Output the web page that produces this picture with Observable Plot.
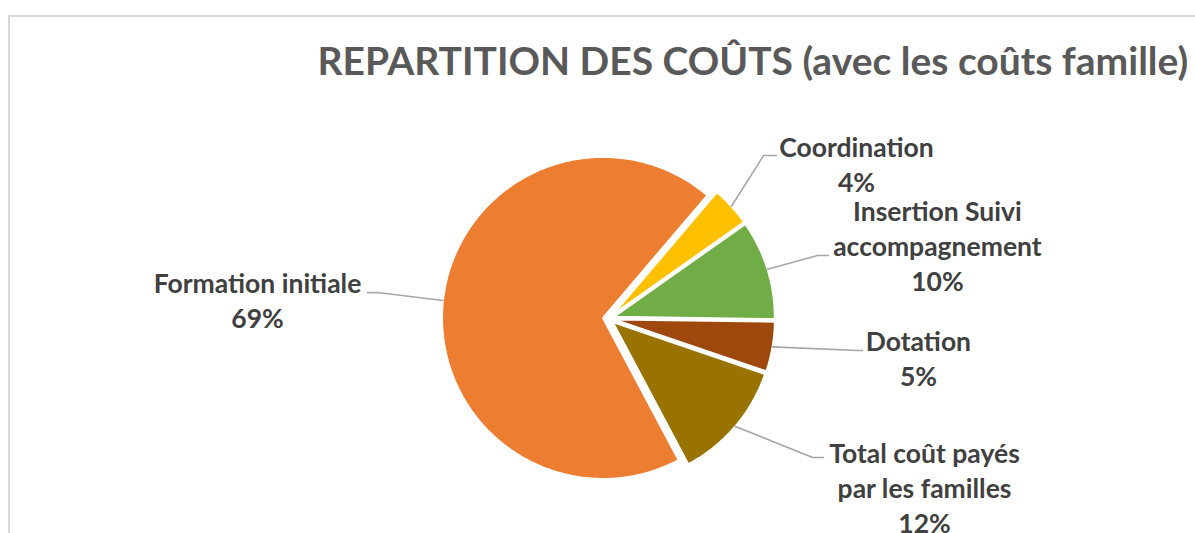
<!DOCTYPE html>
<html>
<head>
<meta charset="utf-8">
<script src="https://cdn.jsdelivr.net/npm/d3@7"></script>
<script src="https://cdn.jsdelivr.net/npm/@observablehq/plot@0.6"></script>
<style>
html, body { margin: 0; padding: 0; background: #ffffff; overflow: hidden; }
#wrap { position: relative; width: 1195px; height: 533px; }
#chart { position: absolute; left: 0; top: 0; }
#frame { position: absolute; left: 8px; top: 15px; width: 1400px; height: 700px;
  border-left: 2px solid #d9d9d9; border-top: 2px solid #d9d9d9; box-sizing: border-box; pointer-events: none; }
</style>
</head>
<body>
<div id="wrap"><div id="chart"></div><div id="frame"></div></div>
<script>
// ---------- data ----------
const title = "REPARTITION DES COÛTS (avec les coûts famille)";
const categories = ["Formation initiale", "Coordination", "Insertion Suivi accompagnement", "Dotation", "Total coût payés par les familles"];
const labelLines = [["Formation initiale"], ["Coordination"], ["Insertion Suivi", "accompagnement"], ["Dotation"], ["Total coût payés", "par les familles"]];
const values = [69, 4, 10, 5, 12];

// ---------- styles / layout ----------
const colors = ["#ED7D31", "#FFC000", "#70AD47", "#9E480E", "#997300"];
const firstSliceAngleDeg = 152;      // clockwise from 12 o'clock
const explodeFrac = 5.5 / 161;       // explosion as fraction of radius
// label block (center, top) and leader elbow/end, in radius units from pie centre (v up)
const labelAnchor = [[-2.180, 0.310], [1.540, 1.155], [2.043, 0.757], [1.925, -0.050], [1.963, -0.746]];
const leaderElbow = [[-1.435, 0.161], [0.963, 1.012], [1.298, 0.391], [1.547, -0.199], [1.267, -0.863]];
const leaderEnd   = [[-1.497, 0.161], [1.043, 1.012], [1.366, 0.391], [1.578, -0.199], [1.335, -0.863]];

const W = 1195, H = 533, CX = 608, CY = 318, R = 161;

// ---------- geometry from data ----------
const total = d3.sum(values);
const a0 = firstSliceAngleDeg * Math.PI / 180;
const arcs = d3.pie().sort(null).startAngle(a0).endAngle(a0 + 2 * Math.PI)(values);

const slicePts = [];
const leaderPts = [];
const labels = [];
arcs.forEach((a, i) => {
  const mid = (a.startAngle + a.endAngle) / 2;
  const ox = explodeFrac * Math.sin(mid), oy = explodeFrac * Math.cos(mid);
  slicePts.push({i, u: ox, v: oy});
  const n = Math.max(2, Math.ceil((a.endAngle - a.startAngle) / (Math.PI / 180)));
  for (let k = 0; k <= n; k++) {
    const t = a.startAngle + (a.endAngle - a.startAngle) * k / n;
    slicePts.push({i, u: ox + Math.sin(t), v: oy + Math.cos(t)});
  }
  // leader line
  leaderPts.push({i, u: ox + Math.sin(mid), v: oy + Math.cos(mid)});
  leaderPts.push({i, u: leaderElbow[i][0], v: leaderElbow[i][1]});
  leaderPts.push({i, u: leaderEnd[i][0], v: leaderEnd[i][1]});
  const pct = Math.round(values[i] / total * 100) + "%";
  labels.push({i, u: labelAnchor[i][0], v: labelAnchor[i][1], text: [...labelLines[i], pct].join("\n")});
});

const chart = Plot.plot({
  width: W, height: H,
  margin: 0,
  x: {domain: [-CX / R, (W - CX) / R], range: [0, W], axis: null},
  y: {domain: [(CY - H) / R, CY / R], range: [H, 0], axis: null},
  color: {type: "identity"},
  style: {background: "transparent", overflow: "visible"},
  marks: [
    Plot.line(slicePts, {x: "u", y: "v", z: "i", fill: d => colors[d.i], stroke: "#ffffff", strokeWidth: 2, curve: "linear-closed", strokeLinejoin: "miter"}),
    Plot.line(leaderPts, {x: "u", y: "v", z: "i", stroke: "#a6a6a6", strokeWidth: 1.6}),
    Plot.text(labels, {x: "u", y: "v", text: "text", lineAnchor: "top", textAnchor: "middle",
      fontFamily: "Lato", fontWeight: "bold", fontSize: 26.5, lineHeight: 35 / 26.5, fill: "#404040"}),
    Plot.text([title], {text: d => d, frameAnchor: "top-left", dx: 317, dy: 47, lineAnchor: "top", textAnchor: "start",
      fontFamily: "Lato", fontWeight: "bold", fontSize: 39, fill: "#595959"})
  ]
});
document.getElementById("chart").appendChild(chart);
</script>
</body>
</html>
